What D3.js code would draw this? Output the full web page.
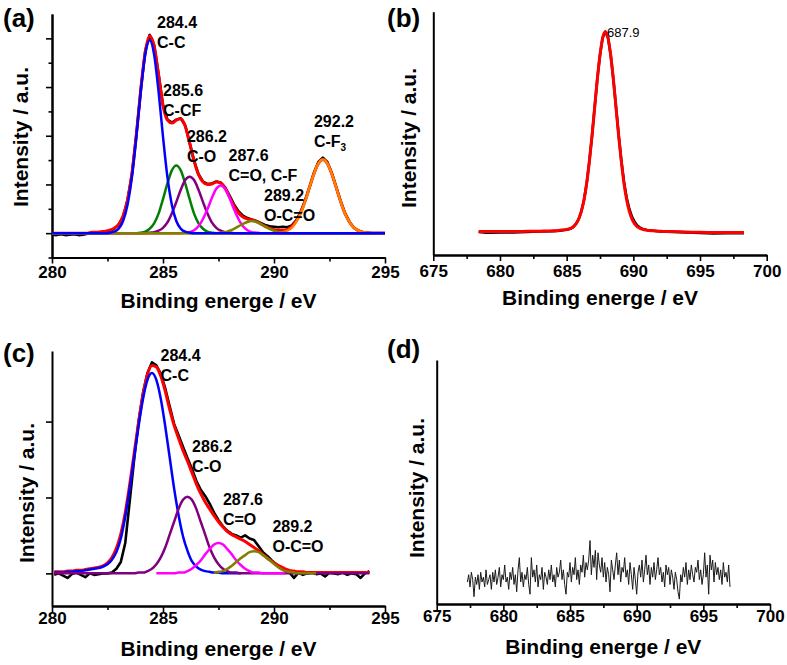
<!DOCTYPE html>
<html><head><meta charset="utf-8">
<script src="https://cdn.jsdelivr.net/npm/d3@7"></script>
<style>
body{margin:0;background:#fff;}
svg{display:block;font-family:"Liberation Sans",Arial,sans-serif;}
</style></head><body>
<svg id="chart" width="787" height="665"></svg>
<script>
// ---------------- DATA ----------------
// Panel (a): C1s, grid 280.0 .. 295.0 step 0.2 (76 points)
const aGridStart = 280.0, aGridStep = 0.2;
const aData = [
 -0.03,-0.04,-0.02,-0.04,-0.03,-0.02,-0.04,-0.03,-0.01,0.01,
 0.02,0.02,0.03,0.05,0.09,0.17,0.34,0.67,1.21,2.03,
 2.96,3.74,4.07,3.86,3.27,2.63,2.33,2.27,2.33,2.36,
 2.21,1.86,1.49,1.21,1.06,1.01,1.02,1.06,1.04,0.94,
 0.77,0.59,0.45,0.36,0.31,0.28,0.25,0.21,0.17,0.14,
 0.13,0.12,0.13,0.12,0.16,0.26,0.43,0.67,0.95,1.24,
 1.46,1.55,1.46,1.24,0.95,0.66,0.41,0.23,0.11,0.05,
 0.02,0.01,0,0,0,0];
const aFit = [
 0,0,0,0,0,0,0,0,0,0.02,
 0.02,0.03,0.04,0.06,0.10,0.18,0.35,0.68,1.22,2.02,
 2.95,3.72,4.05,3.85,3.25,2.62,2.32,2.26,2.32,2.35,
 2.20,1.85,1.48,1.20,1.05,1.00,1.01,1.05,1.03,0.92,
 0.74,0.56,0.42,0.33,0.29,0.27,0.24,0.19,0.14,0.10,
 0.07,0.06,0.06,0.08,0.14,0.25,0.42,0.66,0.94,1.22,
 1.43,1.51,1.43,1.22,0.94,0.65,0.40,0.23,0.11,0.05,
 0.02,0.01,0,0,0,0];
const aBlue = [
 0,0,0,0,0,0,0,0,0,0,
 0,0,0,0.01,0.03,0.09,0.25,0.58,1.15,1.98,
 2.91,3.67,3.96,3.67,2.91,1.98,1.15,0.58,0.25,0.09,
 0.03,0.01,0,0,0,0,0,0,0,0,
 0,0,0,0,0,0,0,0,0,0,
 0,0,0,0,0,0,0,0,0,0,
 0,0,0,0,0,0,0,0,0,0,
 0,0,0,0,0,0];
const aGreen = [
 0,0,0,0,0,0,0,0,0,0,
 0,0,0,0,0,0,0,0,0,0,
 0.01,0.03,0.09,0.20,0.40,0.70,1.02,1.29,1.39,1.29,
 1.02,0.70,0.40,0.20,0.09,0.03,0.01,0,0,0,
 0,0,0,0,0,0,0,0,0,0,
 0,0,0,0,0,0,0,0,0,0,
 0,0,0,0,0,0,0,0,0,0,
 0,0,0,0,0,0];
const aPurple = [
 0,0,0,0,0,0,0,0,0,0,
 0,0,0,0,0,0,0,0,0,0,
 0,0,0.01,0.02,0.05,0.11,0.22,0.41,0.64,0.89,
 1.09,1.16,1.09,0.89,0.64,0.41,0.22,0.11,0.05,0.02,
 0.01,0,0,0,0,0,0,0,0,0,
 0,0,0,0,0,0,0,0,0,0,
 0,0,0,0,0,0,0,0,0,0,
 0,0,0,0,0,0];
const aMagenta = [
 0,0,0,0,0,0,0,0,0,0,
 0,0,0,0,0,0,0,0,0,0,
 0,0,0,0,0,0,0,0,0,0,
 0.01,0.02,0.06,0.14,0.29,0.49,0.72,0.91,0.98,0.91,
 0.72,0.49,0.29,0.14,0.06,0.02,0.01,0,0,0,
 0,0,0,0,0,0,0,0,0,0,
 0,0,0,0,0,0,0,0,0,0,
 0,0,0,0,0,0];
const aOlive = [
 0,0,0,0,0,0,0,0,0,0,
 0,0,0,0,0,0,0,0,0,0,
 0,0,0,0,0,0,0,0,0,0,
 0,0,0,0,0,0,0,0,0.01,0.02,
 0.05,0.09,0.14,0.19,0.23,0.25,0.23,0.19,0.14,0.09,
 0.05,0.02,0.01,0,0,0,0,0,0,0,
 0,0,0,0,0,0,0,0,0,0,
 0,0,0,0,0,0];
const aOrange = [
 0,0,0,0,0,0,0,0,0,0,
 0,0,0,0,0,0,0,0,0,0,
 0,0,0,0,0,0,0,0,0,0,
 0,0,0,0,0,0,0,0,0,0,
 0,0,0,0,0,0,0,0,0,0,
 0,0.01,0.02,0.05,0.11,0.23,0.40,0.65,0.94,1.22,
 1.43,1.51,1.43,1.22,0.94,0.65,0.40,0.23,0.11,0.05,
 0.02,0.01,0,0,0,0];
const aLabelX = [284.73, 285.0, 286.08, 287.95, 289.55, 291.8];
const aLabelY = [4.21, 2.81, 1.88, 1.48, 0.66, 2.18];
const aLabelTop = ["284.4","285.6","286.2","287.6","289.2","292.2"];
const aLabelBottom = ["C-C","C-CF","C-O","C=O, C-F","O-C=O","C-F_3"];

// Panel (b): F1s
const bEnergy = [678.4,679,680,681,682,683,684,684.5,685,685.3,685.5,685.7,685.9,686.1,686.3,686.5,686.7,686.9,687.1,687.3,687.5,687.7,687.9,
 688.1,688.3,688.5,688.7,688.9,689.1,689.3,689.5,689.7,689.9,690.1,690.3,690.5,690.7,691,691.5,692,693,694,695,696,697,698.3];
const bFit = [0.002,0.002,0.002,0.002,0.003,0.004,0.006,0.009,0.013,0.018,0.026,0.040,0.064,0.103,0.160,0.242,0.351,0.479,0.622,0.764,0.884,0.970,1.000,
 0.970,0.884,0.764,0.622,0.479,0.351,0.242,0.160,0.103,0.064,0.040,0.026,0.018,0.013,0.009,0.006,0.004,0.002,0.0,-0.002,-0.003,-0.003,-0.003];
const bData = [0.0,-0.004,-0.002,-0.003,0.0,0.002,0.004,0.006,0.011,0.016,0.025,0.040,0.064,0.103,0.160,0.242,0.351,0.479,0.622,0.764,0.884,0.970,1.000,
 0.970,0.884,0.764,0.625,0.485,0.357,0.250,0.170,0.115,0.075,0.050,0.032,0.022,0.015,0.010,0.006,0.002,0.0,-0.002,-0.005,-0.008,-0.006,-0.006];
const bPeakLabel = "687.9", bPeakLabelX = 688.03, bPeakLabelY = 0.974;

// Panel (c): C1s, grid 280.1 .. 294.3 step 0.2
const cGridStart = 280.1, cGridStep = 0.2;
const cData = [
 -0.02,0.0,-0.03,-0.06,-0.01,0.01,-0.02,-0.05,0.0,-0.02,
 -0.01,0.0,0.0,0.01,0.06,0.15,0.40,0.95,1.50,2.00,
 2.38,2.64,2.78,2.74,2.63,2.44,2.20,1.97,1.82,1.67,
 1.52,1.38,1.22,1.10,1.02,0.92,0.80,0.70,0.62,0.56,
 0.52,0.50,0.47,0.50,0.46,0.44,0.36,0.28,0.23,0.17,
 0.12,0.08,0.04,0.01,-0.06,0.01,-0.02,0.0,0.01,-0.01,
 0.0,-0.04,0.01,0.0,-0.01,0.01,-0.02,0.0,-0.01,-0.06,
 0.0,0.03];
const cFit = [
 0.02,0.02,0.02,0.03,0.03,0.04,0.04,0.05,0.06,0.07,
 0.08,0.10,0.14,0.21,0.33,0.52,0.80,1.17,1.58,1.99,
 2.35,2.62,2.74,2.72,2.60,2.40,2.16,1.95,1.78,1.62,
 1.48,1.33,1.18,1.05,0.94,0.85,0.76,0.68,0.61,0.55,
 0.51,0.48,0.45,0.42,0.38,0.34,0.30,0.25,0.20,0.16,
 0.12,0.09,0.06,0.04,0.03,0.02,0.02,0.01,0.01,0.01,
 0.01,0.01,0.01,0.01,0.01,0.01,0.01,0.01,0.01,0.01,
 0.01,0.01];
const cBlueStart = 280.1;
const cBlue = [
 0.01,0.01,0.01,0.02,0.02,0.03,0.03,0.04,0.05,0.06,
 0.07,0.09,0.12,0.18,0.28,0.46,0.75,1.12,1.53,1.94,
 2.30,2.55,2.64,2.55,2.30,1.94,1.53,1.12,0.77,0.49,
 0.30,0.16,0.09,0.05,0.03,0.02,0.01,0.01,0,0,
 0,0,0];
const cPurpleStart = 280.1;
const cPurple = [
 0,0,0,0,0,0,0,0,0,0,
 0,0,0,0,0,0,0,0,0,0.01,
 0.01,0.03,0.06,0.12,0.21,0.34,0.51,0.68,0.85,0.97,
 1.01,0.97,0.85,0.68,0.51,0.34,0.21,0.12,0.06,0.03,
 0.01,0.01,0,0,0,0,0,0,0,0,
 0,0,0,0,0,0,0,0,0,0,
 0,0,0,0,0,0,0,0,0,0,
 0,0];
const cMagentaStart = 284.7;
const cMagenta = [0,0,0,0,0,0.01,0.01,0.03,0.06,0.11,0.17,0.25,0.32,0.38,0.40,0.38,0.32,0.25,0.17,0.11,0.06,0.03,0.01,0.01,0,0,0,0,0,0];
const cOliveStart = 287.3;
const cOlive = [0.01,0.02,0.03,0.06,0.10,0.15,0.20,0.24,0.28,0.29,0.28,0.24,0.20,0.15,0.10,0.06,0.03,0.02,0.01,0,0,0,0,0];
const cLabelX = [284.89, 286.31, 287.70, 289.93];
const cLabelY = [2.80, 1.60, 0.90, 0.55];
const cLabelTop = ["284.4","286.2","287.6","289.2"];
const cLabelBottom = ["C-C","C-O","C=O","O-C=O"];

// Panel (d): F1s noise, 677.3 .. 697.0 step 0.1
const dStart = 677.3, dStep = 0.1;
const dNoise = [
 9,12,7,13,10,3,11,8,12,6,
 13,9,11,7,14,8,10,12,6,13,
 9,14,8,11,15,7,12,10,16,9,
 11,6,13,10,15,8,12,5,14,19,
 9,13,7,12,10,15,8,4,19,11,
 14,9,16,7,12,10,15,6,13,11,
 8,14,10,16,9,12,7,15,11,13,
 18,10,14,8,4,13,11,17,9,15,
 12,19,10,14,8,16,13,20,11,17,
 14,18,26,12,20,15,22,10,21,16,
 13,19,11,17,9,15,12,5,18,14,
 10,16,21,12,18,9,15,13,19,11,
 14,8,17,12,6,15,10,4,13,16,
 11,18,9,14,20,12,16,8,15,11,
 17,10,14,19,12,15,9,13,7,16,
 12,15,8,14,11,6,13,10,5,2,
 12,9,15,11,17,8,14,10,16,12,
 9,15,13,18,10,14,8,12,21,11,
 16,4,20,14,18,9,17,12,15,10,
 14,8,17,11,13,9,16,7];

// Axis ticks
const cTicksMajor = [280,285,290,295], cTicksMinor = [282.5,287.5,292.5];
const fTicksMajor = [675,680,685,690,695,700], fTicksMinor = [677.5,682.5,687.5,692.5,697.5];
const aYMajor = [0,1,2,3,4], aYMinor = [-0.5,0.5,1.5,2.5,3.5];
const cYMajor = [0,1,2];
const xTitle = "Binding energe / eV", yTitle = "Intensity / a.u.";

// ---------------- DRAW ----------------
const svg = d3.select('#chart');
const pts = (start, step, vals) => vals.map((v,i)=>[start+i*step, v]);
const zip = (xs, ys) => xs.map((x,i)=>[x, ys[i]]);

function drawAxes(x, y, xMaj, xMin, yMaj, yMin, pad){
  const y0 = y.range()[0], x0 = x.range()[0];
  svg.append('g').attr('transform',`translate(0,${y0})`)
    .call(d3.axisBottom(x).tickValues(xMin).tickSize(4).tickSizeOuter(0).tickFormat(''));
  const gMaj = svg.append('g').attr('transform',`translate(0,${y0})`)
    .call(d3.axisBottom(x).tickValues(xMaj).tickSize(6).tickSizeOuter(0).tickPadding(pad));
  gMaj.selectAll('text').attr('font-size',17).attr('font-weight','bold').attr('fill','#000')
    .attr('font-family','"Liberation Sans",Arial,sans-serif');
  svg.append('g').attr('transform',`translate(${x0},0)`)
    .call(d3.axisLeft(y).tickValues(yMaj).tickSize(6).tickSizeOuter(0).tickFormat(''));
  if (yMin.length) svg.append('g').attr('transform',`translate(${x0},0)`)
    .call(d3.axisLeft(y).tickValues(yMin).tickSize(3.5).tickSizeOuter(0).tickFormat(''));
  svg.selectAll('.domain').attr('stroke','#000').attr('stroke-width',2);
  svg.selectAll('.tick line').attr('stroke','#000').attr('stroke-width',1.6);
}

function titles(x, y, ytx, yty){
  const xm = (x.range()[0]+x.range()[1])/2;
  svg.append('text').attr('x',xm).attr('y',y.range()[0]+50).attr('text-anchor','middle')
    .attr('font-size',21).attr('font-weight','bold').text(xTitle);
  svg.append('text').attr('transform',`translate(${ytx},${yty}) rotate(-90)`)
    .attr('text-anchor','middle').attr('dominant-baseline','central')
    .attr('font-size',21).attr('font-weight','bold').text(yTitle);
}

function curve(x, y, data, color, width, smooth){
  const line = d3.line().x(d=>x(d[0])).y(d=>y(d[1]))
    .curve(smooth ? d3.curveMonotoneX : d3.curveLinear);
  svg.append('path').datum(data).attr('d',line).attr('fill','none')
    .attr('stroke',color).attr('stroke-width',width).attr('stroke-linejoin','round');
}

function labels(x, y, xs, ys, tops, bottoms){
  xs.forEach((lx,i)=>{
    const t = svg.append('text').attr('x',x(lx)).attr('y',y(ys[i]))
      .attr('font-size',16).attr('font-weight','bold');
    t.append('tspan').attr('x',x(lx)).text(tops[i]);
    const b = bottoms[i];
    if (b.includes('_')){
      const [main, sub] = b.split('_');
      t.append('tspan').attr('x',x(lx)).attr('dy',20).text(main);
      t.append('tspan').attr('dy',4).attr('font-size',10).text(sub);
    } else {
      t.append('tspan').attr('x',x(lx)).attr('dy',20).text(b);
    }
  });
}

function panelLabel(txt, px, py){
  svg.append('text').attr('x',px).attr('y',py).attr('font-size',26).attr('font-weight','bold').text(txt);
}

// Panel (a)
{
  const x = d3.scaleLinear([280,295],[52,385]);
  const y = d3.scaleLinear([-0.5,4.5],[257.5,14]);
  drawAxes(x, y, cTicksMajor, cTicksMinor, aYMajor, aYMinor, 2);
  curve(x, y, pts(aGridStart, aGridStep, aData), '#000', 2.6, false);
  curve(x, y, pts(aGridStart, aGridStep, aFit), '#ff0000', 3, true);
  curve(x, y, pts(aGridStart, aGridStep, aGreen), '#008000', 2.5, true);
  curve(x, y, pts(aGridStart, aGridStep, aPurple), '#800080', 2.5, true);
  curve(x, y, pts(aGridStart, aGridStep, aMagenta), '#ff00ff', 2.5, true);
  curve(x, y, pts(aGridStart, aGridStep, aOrange), '#ff8000', 2.5, true);
  curve(x, y, pts(aGridStart, aGridStep, aOlive), '#808000', 2.5, true);
  curve(x, y, pts(aGridStart, aGridStep, aBlue), '#0000ff', 2.5, true);
  labels(x, y, aLabelX, aLabelY, aLabelTop, aLabelBottom);
  titles(x, y, 20, 137);
  panelLabel('(a)', 3, 27);
}
// Panel (b)
{
  const x = d3.scaleLinear([675,700],[433.3,766.7]);
  const y = d3.scaleLinear([-0.115,1.10],[255,11.7]);
  drawAxes(x, y, fTicksMajor, fTicksMinor, [], [], 4);
  curve(x, y, zip(bEnergy, bData), '#000', 2.6, false);
  curve(x, y, zip(bEnergy, bFit), '#ff0000', 3, true);
  svg.append('text').attr('x',x(bPeakLabelX)).attr('y',y(bPeakLabelY)).attr('font-size',13).text(bPeakLabel);
  titles(x, y, 408, 138);
  panelLabel('(b)', 387, 27);
}
// Panel (c)
{
  const x = d3.scaleLinear([280,295],[52,385]);
  const y = d3.scaleLinear([-0.43,2.93],[606,351]);
  drawAxes(x, y, cTicksMajor, cTicksMinor, cYMajor, [], 0);
  curve(x, y, pts(cGridStart, cGridStep, cData), '#000', 2.6, false);
  curve(x, y, pts(cGridStart, cGridStep, cFit), '#ff0000', 3, true);
  curve(x, y, pts(cBlueStart, cGridStep, cBlue), '#0000ff', 2.5, true);
  curve(x, y, pts(cPurpleStart, cGridStep, cPurple), '#800080', 2.5, true);
  curve(x, y, pts(cMagentaStart, cGridStep, cMagenta), '#ff00ff', 2.5, true);
  curve(x, y, pts(cOliveStart, cGridStep, cOlive), '#808000', 2.5, true);
  labels(x, y, cLabelX, cLabelY, cLabelTop, cLabelBottom);
  titles(x, y, 26, 493);
  panelLabel('(c)', 3, 362);
}
// Panel (d)
{
  const x = d3.scaleLinear([675,700],[436.7,770]);
  const y = d3.scaleLinear([0,100],[604,360]);
  drawAxes(x, y, fTicksMajor, fTicksMinor, [], [], 0);
  curve(x, y, pts(dStart, dStep, dNoise), '#1a1a1a', 1, false);
  titles(x, y, 416, 488);
  panelLabel('(d)', 387, 358);
}
</script>
</body></html>
